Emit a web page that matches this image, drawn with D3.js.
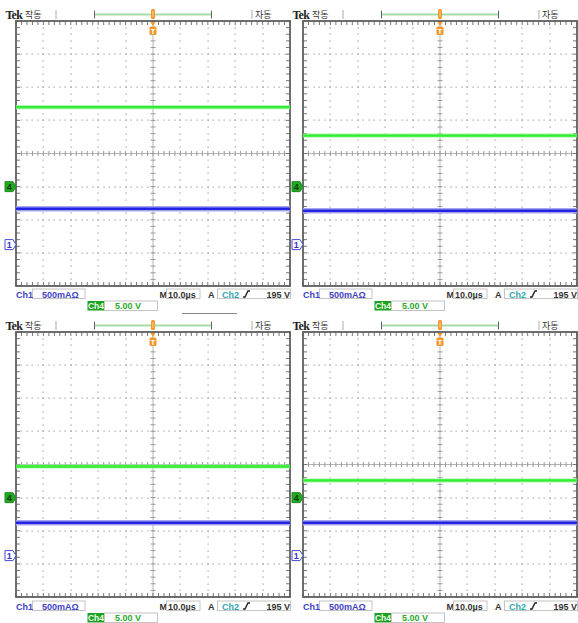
<!DOCTYPE html>
<html><head><meta charset="utf-8">
<script src="https://cdn.jsdelivr.net/npm/d3@7"></script>
<style>html,body{margin:0;padding:0;background:#fff;} svg{display:block;}</style>
</head><body>
<svg id="chart" width="578" height="623"></svg>
<script>
// Four captures of the same measurement, in reading order
const captures = ["1", "2", "3", "4"];
// Ch4 voltage level in each capture (V above its ground marker)
const ch4Volts = [12.0, 7.7, 4.7, 2.6];
// Ch1 current level in each capture (mA above its ground marker)
const ch1MilliAmps = [540, 510, 495, 495];
// Vertical settings
const ch4VoltsPerDiv = 5.0;
const ch1MilliAmpsPerDiv = 500;
// Ground marker positions, divisions from screen centre
const ch4Offset = -1.0;
const ch1Offset = -2.75;
// Horizontal setting (µs)
const timePerDiv = 10.0;
const timeSpan = [-5 * timePerDiv, 5 * timePerDiv];
// Readout texts
const headerLabels = ["Tek", "작동", "자동"];
const ch1Readout = ["Ch1", "500mAΩ"];
const timeReadout = ["M", "10.0µs"];
const trigReadout = ["A", "Ch2", "195 V"];
const ch4Readout = ["Ch4", "5.00 V"];

const svg = d3.select("#chart");
const COLS = [0, 287], ROWS = [0, 311], FOOT_SHIFT = [0, 1];
const GREEN = "#33ec33", BLUE = "#2424dc", ORANGE = "#f5962a";
const GRID = "#9a9a9a", FRAME = "#5f5f5f";

captures.forEach((id, i) => {
  const row = Math.floor(i / 2);
  const ox = COLS[i % 2], oy = ROWS[row];
  const g = svg.append("g").attr("class", "capture capture-" + id);

  const x = d3.scaleLinear().domain(timeSpan).range([ox + 16, ox + 290]);
  const y = d3.scaleLinear().domain([-4, 4]).range([oy + 286, oy + 21]);

  // ---- graticule ----
  const grid = g.append("g");
  const xDivs = d3.range(-4, 5).filter(d => d !== 0).map(d => d * timePerDiv);
  const yDivs = d3.range(-3, 4).filter(d => d !== 0);
  const yMinor = d3.range(-20, 21).map(k => k / 5);
  const xMinor = d3.range(-25, 26).map(k => k * timePerDiv / 5);

  // dotted division lines
  xDivs.forEach(t => {
    grid.selectAll(null).data(yMinor.slice(1, -1)).enter().append("rect")
      .attr("x", Math.round(x(t)) - 0.5).attr("y", d => Math.round(y(d)) - 0.5)
      .attr("width", 1.2).attr("height", 1.2).attr("fill", GRID);
  });
  yDivs.forEach(v => {
    grid.selectAll(null).data(xMinor.slice(1, -1)).enter().append("rect")
      .attr("x", d => Math.round(x(d)) - 0.5).attr("y", Math.round(y(v)) - 0.5)
      .attr("width", 1.2).attr("height", 1.2).attr("fill", GRID);
  });

  // centre cross with minor ticks
  grid.append("line").attr("x1", x(0)).attr("x2", x(0)).attr("y1", y(4)).attr("y2", y(-4))
    .attr("stroke", "#b5b5b5").attr("stroke-width", 1);
  grid.append("line").attr("x1", x(timeSpan[0])).attr("x2", x(timeSpan[1])).attr("y1", y(0)).attr("y2", y(0))
    .attr("stroke", "#b5b5b5").attr("stroke-width", 1);
  grid.selectAll(null).data(yMinor).enter().append("line")
    .attr("x1", x(0) - 2.5).attr("x2", x(0) + 2.5).attr("y1", d => y(d)).attr("y2", d => y(d))
    .attr("stroke", GRID).attr("stroke-width", 1);
  grid.selectAll(null).data(xMinor).enter().append("line")
    .attr("x1", d => x(d)).attr("x2", d => x(d)).attr("y1", y(0) - 2.5).attr("y2", y(0) + 2.5)
    .attr("stroke", GRID).attr("stroke-width", 1);

  // edge ticks
  grid.selectAll(null).data(xMinor).enter().append("line")
    .attr("x1", d => x(d)).attr("x2", d => x(d)).attr("y1", y(4)).attr("y2", y(4) + 4)
    .attr("stroke", "#777").attr("stroke-width", 1);
  grid.selectAll(null).data(xMinor).enter().append("line")
    .attr("x1", d => x(d)).attr("x2", d => x(d)).attr("y1", y(-4)).attr("y2", y(-4) - 4)
    .attr("stroke", "#777").attr("stroke-width", 1);
  grid.selectAll(null).data(yMinor).enter().append("line")
    .attr("x1", x(timeSpan[0])).attr("x2", x(timeSpan[0]) + 4).attr("y1", d => y(d)).attr("y2", d => y(d))
    .attr("stroke", "#777").attr("stroke-width", 1);
  grid.selectAll(null).data(yMinor).enter().append("line")
    .attr("x1", x(timeSpan[1])).attr("x2", x(timeSpan[1]) - 4).attr("y1", d => y(d)).attr("y2", d => y(d))
    .attr("stroke", "#777").attr("stroke-width", 1);

  // frame
  grid.append("rect").attr("x", x(timeSpan[0])).attr("y", y(4))
    .attr("width", x(timeSpan[1]) - x(timeSpan[0])).attr("height", y(-4) - y(4))
    .attr("fill", "none").attr("stroke", FRAME).attr("stroke-width", 1.8);

  // ---- traces ----
  const line = d3.line().x(d => x(d[0])).y(d => y(d[1]));
  const ch4Level = ch4Offset + ch4Volts[i] / ch4VoltsPerDiv;
  const ch1Level = ch1Offset + ch1MilliAmps[i] / ch1MilliAmpsPerDiv;
  const ch4Pts = timeSpan.map(t => [t, ch4Level]);
  const ch1Pts = timeSpan.map(t => [t, ch1Level]);

  g.append("path").attr("d", line(ch4Pts)).attr("stroke", "#9cf79c").attr("stroke-width", 4).attr("fill", "none");
  g.append("path").attr("d", line(ch4Pts)).attr("stroke", GREEN).attr("stroke-width", 2.4).attr("fill", "none");
  g.append("path").attr("d", line(ch1Pts)).attr("stroke", "#a4a4f5").attr("stroke-width", 5.5).attr("fill", "none");
  g.append("path").attr("d", line(ch1Pts)).attr("stroke", BLUE).attr("stroke-width", 2.6).attr("fill", "none");

  // ---- ground markers ----
  const mk = (level, fill, stroke, txtCol, label) => {
    const cy = y(level), x0 = ox + 5, x1 = ox + 13, tip = ox + 16;
    g.append("path")
      .attr("d", `M${x0},${cy - 5}L${x1},${cy - 5}L${tip},${cy}L${x1},${cy + 5}L${x0},${cy + 5}Z`)
      .attr("fill", fill).attr("stroke", stroke).attr("stroke-width", 1);
    g.append("text").attr("x", ox + 9.3).attr("y", cy + 3.3).attr("text-anchor", "middle")
      .attr("font-family", "Liberation Sans, Arial, sans-serif").attr("font-size", 9).attr("font-weight", "bold")
      .attr("fill", txtCol).text(label);
  };
  mk(ch4Offset, "#24a824", "#1d8f1d", "#0b3d0b", "4");
  mk(ch1Offset, "#ffffff", "#4a4ad0", "#3434c8", "1");

  // ---- header ----
  g.append("text").attr("x", ox + 5.5).attr("y", oy + 18.5)
    .attr("font-family", "Liberation Serif, serif").attr("font-weight", "bold").attr("font-size", 12)
    .attr("letter-spacing", -0.8).attr("fill", "#222").text(headerLabels[0]);
  g.append("text").attr("x", ox + 25).attr("y", oy + 18)
    .attr("font-family", "Noto Sans CJK KR, sans-serif").attr("font-size", 9).attr("fill", "#333").text(headerLabels[1]);
  g.append("text").attr("x", ox + 255).attr("y", oy + 18)
    .attr("font-family", "Noto Sans CJK KR, sans-serif").attr("font-size", 9).attr("fill", "#333").text(headerLabels[2]);
  [56, 252].forEach(sx => g.append("line").attr("x1", ox + sx).attr("x2", ox + sx)
    .attr("y1", oy + 10).attr("y2", oy + 19).attr("stroke", "#aaa").attr("stroke-width", 1));

  // record-length bracket with trigger position
  const bx0 = x(0) - 58.5, bx1 = x(0) + 58.5, by = oy + 14.5;
  g.append("line").attr("x1", bx0).attr("x2", bx1).attr("y1", by).attr("y2", by)
    .attr("stroke", "#a6dca6").attr("stroke-width", 2);
  [bx0, bx1].forEach(bx => g.append("line").attr("x1", bx).attr("x2", bx)
    .attr("y1", by - 4).attr("y2", by + 4).attr("stroke", "#666").attr("stroke-width", 1));
  g.append("rect").attr("x", x(0) - 2).attr("y", oy + 9).attr("width", 4).attr("height", 10).attr("rx", 1.5)
    .attr("fill", ORANGE);
  g.append("line").attr("x1", x(0)).attr("x2", x(0)).attr("y1", oy + 11).attr("y2", oy + 17)
    .attr("stroke", "#fde3c0").attr("stroke-width", 0.8);

  // trigger position marker under the frame top
  const tx = x(0), ty = y(4);
  g.append("path").attr("d", `M${tx - 2.5},${ty + 1}L${tx + 2.5},${ty + 1}L${tx},${ty + 5}Z`).attr("fill", ORANGE);
  g.append("rect").attr("x", tx - 3.5).attr("y", ty + 5.5).attr("width", 7).attr("height", 8.5).attr("rx", 1.5)
    .attr("fill", ORANGE);
  g.append("text").attr("x", tx).attr("y", ty + 12.8).attr("text-anchor", "middle")
    .attr("font-family", "Liberation Sans, sans-serif").attr("font-weight", "bold").attr("font-size", 8)
    .attr("fill", "#fff").text("T");

  // ---- footer readouts ----
  const fy = oy + 289 + FOOT_SHIFT[row], fy2 = fy + 12;
  const font = "Liberation Sans, Arial, sans-serif";
  const box = (bx, byy, w, h) => g.append("rect").attr("x", ox + bx).attr("y", byy).attr("width", w).attr("height", h)
    .attr("fill", "#fff").attr("stroke", "#c4c4c4").attr("stroke-width", 1);
  const txt = (tx_, tyy, s, col, anchor) => g.append("text").attr("x", ox + tx_).attr("y", tyy)
    .attr("font-family", font).attr("font-size", 9).attr("font-weight", "bold")
    .attr("text-anchor", anchor || "start").attr("fill", col).text(s);

  box(32.5, fy, 52.5, 9.5);
  txt(16, fy + 8.5, ch1Readout[0], "#3f3fc4");
  txt(42, fy + 8.5, ch1Readout[1], "#3f3fc4");
  txt(159.5, fy + 8.5, timeReadout[0], "#333");
  box(166.5, fy, 33.5, 9.5);
  txt(168, fy + 8.5, timeReadout[1], "#333");
  txt(208, fy + 8.5, trigReadout[0], "#333");
  box(217.5, fy, 73, 9.5);
  txt(222, fy + 8.5, trigReadout[1], "#2fa8b0");
  g.append("path").attr("d", `M${ox + 243},${fy + 8}L${ox + 245},${fy + 8}L${ox + 248},${fy + 2}L${ox + 250},${fy + 2}`)
    .attr("fill", "none").attr("stroke", "#222").attr("stroke-width", 1.4);
  txt(290, fy + 8.5, trigReadout[2], "#333", "end");

  g.append("rect").attr("x", ox + 87.5).attr("y", fy2).attr("width", 17).attr("height", 9.5).attr("fill", "#1f9f1f");
  txt(96, fy2 + 8, ch4Readout[0], "#e8ffe8", "middle").attr("font-size", 8.5);
  box(104.5, fy2, 53, 9.5);
  txt(115, fy2 + 8, ch4Readout[1], "#2faa2f");
});

// short rule between the upper and lower pairs
svg.append("line").attr("x1", 182).attr("x2", 237).attr("y1", 313.5).attr("y2", 313.5)
  .attr("stroke", "#888").attr("stroke-width", 1);
</script>
</body></html>
